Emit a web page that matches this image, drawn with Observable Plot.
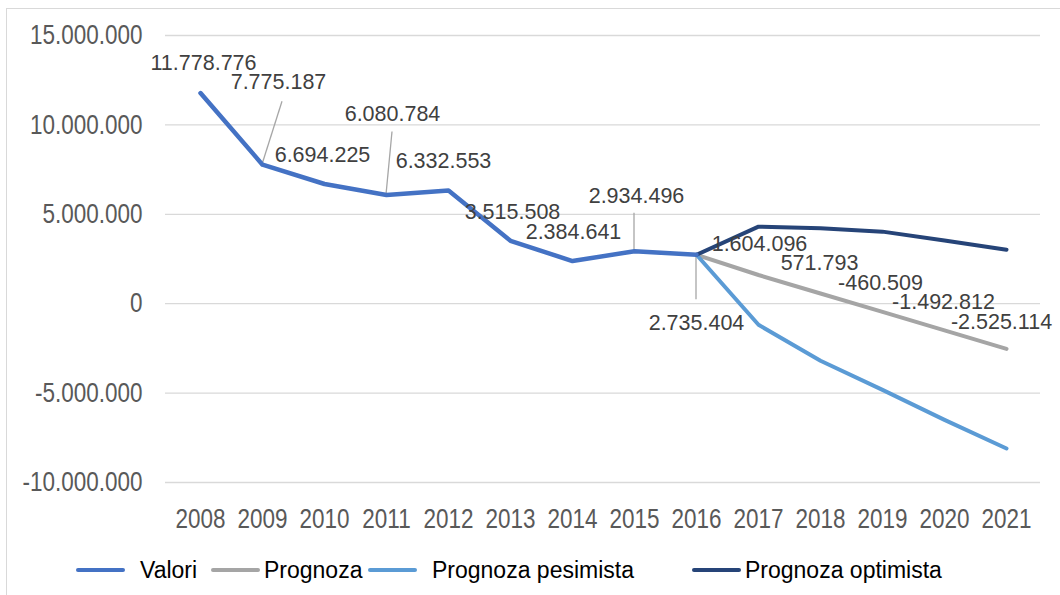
<!DOCTYPE html>
<html><head><meta charset="utf-8">
<script src="https://cdn.jsdelivr.net/npm/d3@7"></script>
<script src="https://cdn.jsdelivr.net/npm/@observablehq/plot@0.6"></script>
<style>
html,body{margin:0;padding:0;background:#fff;}
body{width:1060px;height:595px;position:relative;overflow:hidden;font-family:"Liberation Sans",Arial,sans-serif;}
#frame{position:absolute;left:6px;top:8px;width:1100px;height:650px;border-top:1px solid #d9d9d9;border-left:1px solid #d9d9d9;}
#chart{position:absolute;left:0;top:0;}
#legend{position:absolute;left:0;top:552px;width:1060px;height:36px;}
.sw{position:absolute;height:4px;top:16px;border-radius:2px;}
.lt{position:absolute;top:0;line-height:36px;font-size:23px;color:#000;white-space:nowrap;}
</style></head><body>
<div id="frame"></div><div id="chart"></div><div id="legend"></div>
<script>
// ---- data ----
const years = [2008,2009,2010,2011,2012,2013,2014,2015,2016,2017,2018,2019,2020,2021];
const valori    = [11778776, 7775187, 6694225, 6080784, 6332553, 3515508, 2384641, 2934496, 2735404, null, null, null, null, null];
const prognoza  = [null, null, null, null, null, null, null, null, 2735404, 1604096, 571793, -460509, -1492812, -2525114];
const pesimista = [null, null, null, null, null, null, null, null, 2735404, -1180000, -3190000, -4820000, -6500000, -8100000];
const optimista = [null, null, null, null, null, null, null, null, 2735404, 4310000, 4220000, 4030000, 3530000, 3020000];
const seriesNames = ["Valori", "Prognoza", "Prognoza pesimista", "Prognoza optimista"];
const seriesValues = [valori, prognoza, pesimista, optimista];
const yTicks = [-10000000, -5000000, 0, 5000000, 10000000, 15000000];

// ---- styles / layout ----
const seriesColors = ["#4472C4", "#A5A5A5", "#5B9BD5", "#264478"];
const seriesWidths = [4.5, 4, 4, 4];
const drawOrder = [1, 2, 3, 0];
// label offsets (px) relative to the point: [dx, dy]
const valoriLabelOffsets = [[3,-30],[16,-83],[-2,-29],[6,-81],[-5,-29],[2,-29],[1,-29],[2,-55],[0,68]];
const prognozaLabelOffsets = {2017:[1,-31], 2018:[-1,-30], 2019:[-2,-29], 2020:[-1,-28], 2021:[-5,-27]};
// leader lines: year -> [ex, ey] end offset from the point
const leaderOffsets = {2009:[20,-63], 2011:[6,-63], 2015:[0,-38], 2016:[0,45]};
const legendPos = [[76,140],[211,264],[368,432],[692,745]];
const tickFont = "'Liberation Sans', Arial, sans-serif";
const tickSize = 22.5, tickStretch = 1.22;
const labelSize = 21.5, labelStretch = 1.1;

const loc = d3.formatLocale({decimal: ",", thousands: ".", grouping: [3], currency: ["", ""], minus: "-"});
const fmt = loc.format(",d");

const rows = [];
seriesNames.forEach((name, i) => {
  seriesValues[i].forEach((v, j) => { if (v != null) rows.push({series: name, year: years[j], value: v}); });
});

const labels = [];
valori.forEach((v, j) => { if (v != null) labels.push({year: years[j], value: v, text: fmt(v), off: valoriLabelOffsets[j]}); });
prognoza.forEach((v, j) => { if (v != null && prognozaLabelOffsets[years[j]]) labels.push({year: years[j], value: v, text: fmt(v), off: prognozaLabelOffsets[years[j]]}); });

function leaderMark(index, scales) {
  const g = d3.create("svg:g");
  for (const [yr, [ex, ey]] of Object.entries(leaderOffsets)) {
    const j = years.indexOf(+yr);
    const x = scales.x(+yr), y = scales.y(valori[j]);
    g.append("line").attr("x1", x).attr("y1", y).attr("x2", x + ex).attr("y2", y + ey)
      .attr("stroke", "#a6a6a6").attr("stroke-width", 1.3);
  }
  return g.node();
}

const chart = Plot.plot({
  width: 1060, height: 545,
  marginLeft: 165, marginRight: 20, marginTop: 35, marginBottom: 63,
  x: {type: "point", domain: years, padding: 0.5},
  y: {domain: [-10000000, 15000000]},
  style: {fontFamily: tickFont, fontSize: "22px", color: "#595959", background: "transparent", overflow: "visible"},
  marks: [
    Plot.ruleY(yTicks, {stroke: "#d9d9d9", strokeWidth: 1.3}),
    Plot.axisY({ticks: yTicks, tickSize: 0, tickPadding: 23, tickFormat: fmt, label: null, fontSize: tickSize}),
    Plot.axisX({tickSize: 0, tickPadding: 26, tickFormat: d => String(d), label: null, fontSize: tickSize}),
    leaderMark,
    ...drawOrder.map(i => Plot.line(rows.filter(r => r.series === seriesNames[i]), {
      x: "year", y: "value", stroke: seriesColors[i], strokeWidth: seriesWidths[i],
      strokeLinejoin: "round", strokeLinecap: "round"
    })),
    ...labels.map(l => Plot.text([l], {x: "year", y: "value", text: "text", dx: l.off[0], dy: l.off[1], fill: "#404040", fontSize: labelSize, ariaLabel: "data label"}))
  ]
});

// the reference's text is slightly taller than wide: stretch glyphs vertically about their anchor
function stretch(sel, k) {
  sel.each(function() {
    const t = this.getAttribute("transform");
    if (t) this.setAttribute("transform", t + ` scale(1,${k})`);
    else {
      const x = +this.getAttribute("x") || 0, y = +this.getAttribute("y") || 0;
      this.removeAttribute("x"); this.removeAttribute("y");
      this.setAttribute("transform", `translate(${x},${y}) scale(1,${k})`);
    }
  });
}
const root = d3.select(chart);
stretch(root.selectAll('g[aria-label="x-axis tick label"] text, g[aria-label="y-axis tick label"] text'), tickStretch);
stretch(root.selectAll('g[aria-label="data label"] text'), labelStretch);
document.getElementById("chart").appendChild(chart);

const legend = document.getElementById("legend");
seriesNames.forEach((name, i) => {
  const sw = document.createElement("div");
  sw.className = "sw"; sw.style.left = legendPos[i][0] + "px"; sw.style.width = "49px"; sw.style.background = seriesColors[i];
  const t = document.createElement("div");
  t.className = "lt"; t.style.left = legendPos[i][1] + "px"; t.textContent = name;
  legend.appendChild(sw); legend.appendChild(t);
});
</script>
</body></html>
